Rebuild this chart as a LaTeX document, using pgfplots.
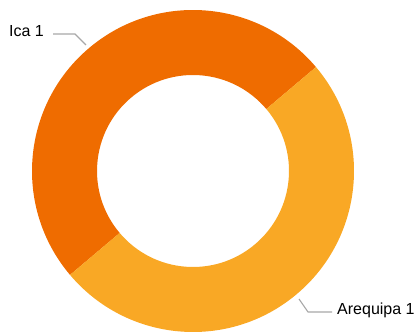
\documentclass[border=0pt]{standalone}
\usepackage{pgfplots}
\pgfplotsset{compat=1.18}
\usepackage{pgfplotstable}
\usepackage{fontspec}
\setmainfont{Liberation Sans}
\definecolor{ica}{HTML}{EF6C00}
\definecolor{areq}{HTML}{F9A825}
\definecolor{lead}{HTML}{A8A8A8}
\pgfplotstableread[col sep=comma]{
label,value
Ica 1,1
Arequipa 1,1
}\slices
\begin{document}
\begin{tikzpicture}
\useasboundingbox (0,0) rectangle (419pt,331pt);
\pgfplotstablegetelem{0}{value}\of\slices \let\va\pgfplotsretval
\pgfplotstablegetelem{1}{value}\of\slices \let\vb\pgfplotsretval
\pgfmathsetmacro{\sA}{40.2}
\pgfmathsetmacro{\eA}{\sA+360*\va/(\va+\vb)}
\pgfmathsetmacro{\eB}{\eA+360*\vb/(\va+\vb)}
\begin{axis}[at={(0,0)},anchor=south west,width=419pt,height=331pt,scale only axis,
  xmin=0,xmax=419,ymin=0,ymax=331,hide axis]
\addplot[draw=none] coordinates {(0,0) (419,331)};
\fill[ica] (axis cs:193,160) ++(\sA:161pt) arc[start angle=\sA,end angle=\eA,radius=161pt]
  -- ++(\eA:-65pt) arc[start angle=\eA,end angle=\sA,radius=96pt] -- cycle;
\fill[areq] (axis cs:193,160) ++(\eA:161pt) arc[start angle=\eA,end angle=\eB,radius=161pt]
  -- ++(\eB:-65pt) arc[start angle=\eB,end angle=\eA,radius=96pt] -- cycle;
\draw[lead,line width=1.1pt] (axis cs:53,297) -- (axis cs:75,297) -- (axis cs:86,286);
\draw[lead,line width=1.1pt] (axis cs:299,32) -- (axis cs:308,19) -- (axis cs:332,19);
\node[anchor=mid west,inner sep=0pt,font=\fontsize{16}{19}\selectfont] at (axis cs:9,297) {Ica 1};
\node[anchor=mid west,inner sep=0pt,font=\fontsize{16}{19}\selectfont] at (axis cs:337,19) {Arequipa 1};
\end{axis}
\end{tikzpicture}
\end{document}
